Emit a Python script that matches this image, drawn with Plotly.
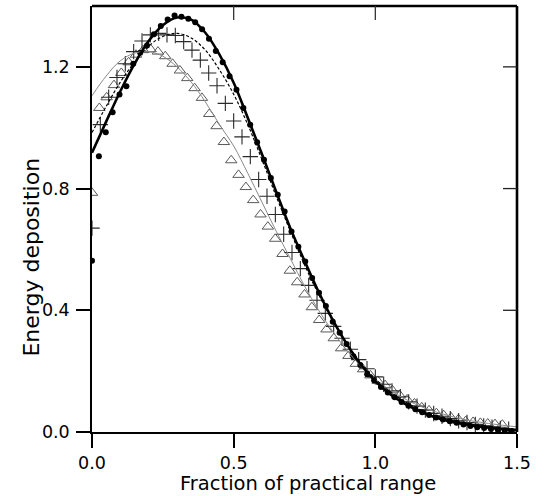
import plotly.graph_objects as go

# ---------------- data ----------------
# filled circles (measured)
x_dots = [0.0, 0.0243, 0.0486, 0.0728, 0.0971, 0.1214, 0.1457, 0.1700, 0.1942, 0.2185,
          0.2428, 0.2671, 0.2914, 0.3156, 0.3399, 0.3642, 0.3885, 0.4128, 0.4370, 0.4613,
          0.4856, 0.5099, 0.5342, 0.5584, 0.5827, 0.6070, 0.6313, 0.6556, 0.6798, 0.7041,
          0.7284, 0.7527, 0.7770, 0.8012, 0.8255, 0.8498, 0.8741, 0.8984, 0.9226, 0.9469,
          0.9712, 0.9955, 1.0198, 1.0440, 1.0683, 1.0926, 1.1169, 1.1412, 1.1654, 1.1897,
          1.2140, 1.2383, 1.2626, 1.2868, 1.3111, 1.3354, 1.3597, 1.3840, 1.4082, 1.4325,
          1.4568, 1.4811]
y_dots = [0.563, 0.906, 0.985, 1.051, 1.109, 1.136, 1.210, 1.246, 1.270, 1.307,
          1.334, 1.356, 1.369, 1.365, 1.358, 1.347, 1.324, 1.292, 1.252, 1.215,
          1.169, 1.125, 1.065, 1.010, 0.952, 0.895, 0.835, 0.780, 0.725, 0.659,
          0.609, 0.560, 0.506, 0.458, 0.414, 0.362, 0.326, 0.289, 0.249, 0.220,
          0.190, 0.170, 0.148, 0.130, 0.114, 0.099, 0.086, 0.075, 0.065, 0.056,
          0.048, 0.041, 0.035, 0.030, 0.025, 0.020, 0.016, 0.013, 0.010, 0.007,
          0.005, 0.003]

# crosses (measured)
x_cross = [0.0, 0.0294, 0.0588, 0.0882, 0.1176, 0.1471, 0.1765, 0.2059, 0.2353, 0.2647,
           0.2941, 0.3235, 0.3529, 0.3824, 0.4118, 0.4412, 0.4706, 0.5000, 0.5294, 0.5588,
           0.5882, 0.6176, 0.6471, 0.6765, 0.7059, 0.7353, 0.7647, 0.7941, 0.8235, 0.8529,
           0.8824, 0.9118, 0.9412, 0.9706, 1.0000, 1.0294, 1.0588, 1.0882, 1.1176, 1.1471,
           1.1765, 1.2059, 1.2353, 1.2647, 1.2941, 1.3235, 1.3529, 1.3824, 1.4118, 1.4412,
           1.4706, 1.5000]
y_cross = [0.670, 1.010, 1.100, 1.165, 1.210, 1.250, 1.285, 1.305, 1.310, 1.305,
           1.303, 1.283, 1.255, 1.222, 1.180, 1.138, 1.080, 1.022, 0.970, 0.905,
           0.830, 0.775, 0.715, 0.650, 0.590, 0.537, 0.482, 0.433, 0.390, 0.347,
           0.308, 0.272, 0.238, 0.208, 0.181, 0.157, 0.135, 0.116, 0.099, 0.085,
           0.072, 0.061, 0.052, 0.044, 0.037, 0.031, 0.025, 0.020, 0.016, 0.012,
           0.009, 0.006]

# open triangles (measured)
x_tri = [0.0, 0.0259, 0.0517, 0.0776, 0.1034, 0.1293, 0.1552, 0.1810, 0.2069, 0.2328,
         0.2586, 0.2845, 0.3103, 0.3362, 0.3621, 0.3879, 0.4138, 0.4397, 0.4655, 0.4914,
         0.5172, 0.5431, 0.5690, 0.5948, 0.6207, 0.6466, 0.6724, 0.6983, 0.7241, 0.7500,
         0.7759, 0.8017, 0.8276, 0.8534, 0.8793, 0.9052, 0.9310, 0.9569, 0.9828, 1.0086,
         1.0345, 1.0603, 1.0862, 1.1121, 1.1379, 1.1638, 1.1897, 1.2155, 1.2414, 1.2672,
         1.2931, 1.3190, 1.3448, 1.3707, 1.3966, 1.4224, 1.4483]
y_tri = [0.786, 1.065, 1.100, 1.140, 1.180, 1.215, 1.240, 1.255, 1.258, 1.250,
         1.235, 1.210, 1.188, 1.163, 1.130, 1.098, 1.045, 1.005, 0.953, 0.893,
         0.845, 0.805, 0.762, 0.715, 0.675, 0.635, 0.585, 0.530, 0.492, 0.452,
         0.410, 0.368, 0.337, 0.308, 0.275, 0.250, 0.224, 0.206, 0.186, 0.168,
         0.154, 0.137, 0.121, 0.107, 0.094, 0.081, 0.071, 0.062, 0.055, 0.048,
         0.042, 0.036, 0.033, 0.030, 0.028, 0.026, 0.024]

# fitted curves
x_fit = [0.0, 0.05, 0.10, 0.15, 0.20, 0.25, 0.30, 0.35, 0.40, 0.45,
         0.50, 0.55, 0.60, 0.65, 0.70, 0.75, 0.80, 0.85, 0.90, 0.95,
         1.00, 1.05, 1.10, 1.15, 1.20, 1.25, 1.30, 1.35, 1.40, 1.45, 1.50]
y_fit_dots = [0.918, 1.020, 1.120, 1.210, 1.285, 1.337, 1.362, 1.355, 1.312, 1.240,
              1.148, 1.032, 0.913, 0.790, 0.670, 0.563, 0.460, 0.368, 0.288, 0.220,
              0.167, 0.126, 0.095, 0.071, 0.052, 0.038, 0.028, 0.020, 0.014, 0.009, 0.006]
y_fit_cross = [0.984, 1.070, 1.150, 1.215, 1.268, 1.300, 1.310, 1.295, 1.255, 1.190,
               1.110, 1.010, 0.895, 0.775, 0.660, 0.550, 0.452, 0.365, 0.290, 0.226,
               0.175, 0.134, 0.102, 0.077, 0.058, 0.043, 0.032, 0.023, 0.017, 0.012, 0.008]
y_fit_tri = [1.105, 1.170, 1.220, 1.245, 1.250, 1.235, 1.200, 1.150, 1.085, 1.010,
             0.940, 0.850, 0.755, 0.660, 0.570, 0.480, 0.400, 0.330, 0.268, 0.215,
             0.173, 0.139, 0.111, 0.088, 0.070, 0.056, 0.044, 0.035, 0.028, 0.022, 0.017]

x_range = [0.0, 1.5]
y_range = [0.0, 1.4]
x_ticks = [0.0, 0.5, 1.0, 1.5]
x_ticklabels = ["0.0", "0.5", "1.0", "1.5"]
y_ticks = [0.0, 0.4, 0.8, 1.2]
y_ticklabels = ["0.0", "0.4", "0.8", "1.2"]
top_ticks = [0.5, 1.0]
right_ticks = [0.4, 0.8, 1.2]

x_title = "Fraction of practical range"
y_title = "Energy deposition"

# ---------------- figure ----------------
W, H = 548, 496
ML, MR, MT, MB = 92, 31, 6, 64
PW, PH = W - ML - MR, H - MT - MB
TICKLEN = 14
tx = TICKLEN / PW   # tick length as fraction of the x domain
ty = TICKLEN / PH   # tick length as fraction of the y domain


def xfrac(v):
    return (v - x_range[0]) / (x_range[1] - x_range[0])


def yfrac(v):
    return (v - y_range[0]) / (y_range[1] - y_range[0])


fig = go.Figure()

fig.add_trace(go.Scatter(x=x_tri, y=y_tri, mode="markers",
                         marker=dict(symbol="triangle-up-open", size=10,
                                     color="#5a5a5a", line=dict(width=1, color="#5a5a5a"))))
fig.add_trace(go.Scatter(x=x_cross, y=y_cross, mode="markers",
                         marker=dict(symbol="cross-thin", size=11,
                                     line=dict(width=1.1, color="#2a2a2a"))))
fig.add_trace(go.Scatter(x=x_dots, y=y_dots, mode="markers",
                         marker=dict(symbol="circle", size=6, color="black")))
fig.add_trace(go.Scatter(x=x_fit, y=y_fit_tri, mode="lines", line_shape="spline",
                         line=dict(color="#8a8a8a", width=1)))
fig.add_trace(go.Scatter(x=x_fit, y=y_fit_cross, mode="lines", line_shape="spline",
                         line=dict(color="black", width=1.2, dash="3px,2px")))
fig.add_trace(go.Scatter(x=x_fit, y=y_fit_dots, mode="lines", line_shape="spline",
                         line=dict(color="black", width=2.6)))

tickfont = dict(family="DejaVu Sans", size=17.5, color="black")

# frame: thick top/right borders with inward ticks
shapes = [
    dict(type="line", xref="x domain", yref="y domain", x0=0, x1=1, y0=1, y1=1,
         line=dict(color="black", width=2.6)),
    dict(type="line", xref="x domain", yref="y domain", x0=1, x1=1, y0=0, y1=1,
         line=dict(color="black", width=2.6)),
]
for t in top_ticks:
    shapes.append(dict(type="line", xref="x domain", yref="y domain",
                       x0=xfrac(t), x1=xfrac(t), y0=1, y1=1 - ty,
                       line=dict(color="#333", width=1.3)))
for t in right_ticks:
    shapes.append(dict(type="line", xref="x domain", yref="y domain",
                       x0=1 - tx, x1=1, y0=yfrac(t), y1=yfrac(t),
                       line=dict(color="#222", width=1.3)))

fig.update_layout(
    width=W, height=H,
    margin=dict(l=ML, r=MR, t=MT, b=MB),
    paper_bgcolor="white", plot_bgcolor="white",
    showlegend=False,
    xaxis=dict(range=x_range, tickvals=x_ticks, ticktext=x_ticklabels,
               ticks="outside", ticklen=TICKLEN, tickwidth=1.5, tickcolor="black",
               showline=True, linecolor="black", linewidth=1.5,
               showgrid=False, zeroline=False, tickfont=tickfont),
    yaxis=dict(range=y_range, tickvals=y_ticks, ticktext=y_ticklabels,
               ticks="outside", ticklen=TICKLEN, tickwidth=1.5, tickcolor="black",
               showline=True, linecolor="black", linewidth=1.5,
               showgrid=False, zeroline=False, tickfont=tickfont,
               ticklabelstandoff=3),
    shapes=shapes,
    annotations=[
        dict(text=x_title, xref="paper", yref="paper", x=0.509, y=-0.122,
             xanchor="center", yanchor="middle", showarrow=False,
             font=dict(family="DejaVu Sans", size=19.5, color="black")),
        dict(text=y_title, xref="paper", yref="paper", x=-0.143, y=0.41,
             xanchor="center", yanchor="middle", showarrow=False, textangle=-90,
             font=dict(family="DejaVu Sans", size=22, color="black")),
    ],
)

fig.write_html("out.html")
